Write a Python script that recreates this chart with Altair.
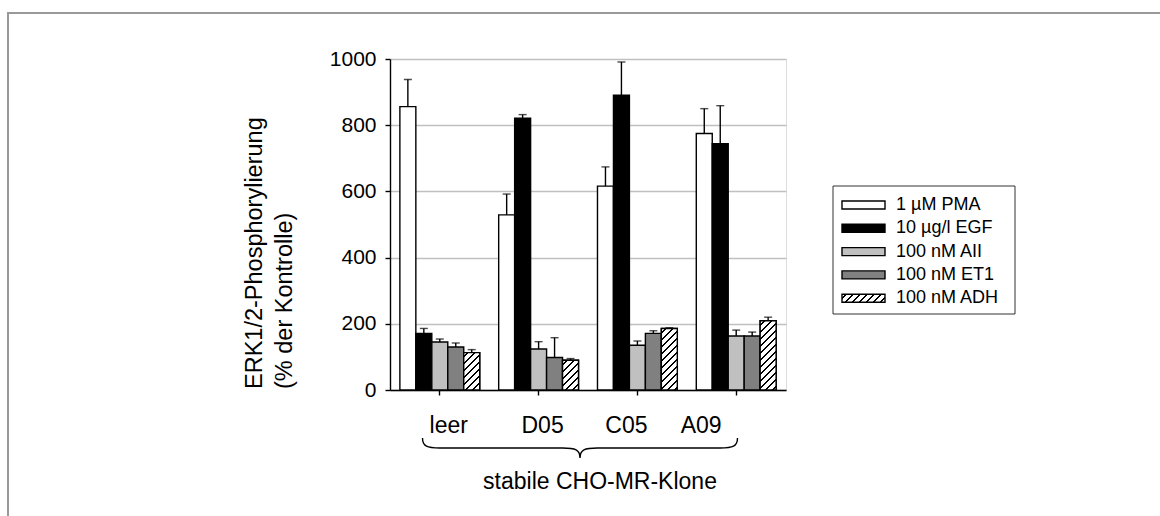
import altair as alt
import pandas as pd

# ---- data -------------------------------------------------------------
clones = ["leer", "D05", "C05", "A09"]
treatments = ["1 µM PMA", "10 µg/l EGF", "100 nM AII", "100 nM ET1", "100 nM ADH"]

pma = [856, 529, 616, 775]
egf = [171, 821, 891, 744]
aii = [145, 124, 135, 163]
et1 = [130, 98, 171, 163]
adh = [113, 90, 186, 209]

pma_err = [82, 63, 58, 75]
egf_err = [15, 11, 100, 115]
aii_err = [9, 22, 13, 18]
et1_err = [12, 60, 8, 12]
adh_err = [9, 5, 2, 11]

y_ticks = [0, 200, 400, 600, 800, 1000]

fills = ["#ffffff", "#000000", "#c0c0c0", "#808080", "#ffffff"]

means = [pma, egf, aii, et1, adh]
errs = [pma_err, egf_err, aii_err, et1_err, adh_err]
df = pd.DataFrame(
    [
        {"clone": c, "treatment": t, "value": m[j], "err": e[j]}
        for t, m, e in zip(treatments, means, errs)
        for j, c in enumerate(clones)
    ]
)
df_clones = pd.DataFrame({"clone": clones})
df_treat = pd.DataFrame({"treatment": treatments})
df_one = pd.DataFrame({"k": [0]})

# ---- layout -----------------------------------------------------------
W, H = 396, 331          # plot rectangle
Y_MAX = 1000
PAD_IN, PAD_OUT = 0.192, 0.1
FONT = "Liberation Sans"
LINE = 1.4

step = W / (len(clones) - PAD_IN + 2 * PAD_OUT)
bar_w = step * (1 - PAD_IN) / len(treatments)
px_per_unit = H / Y_MAX


def hatch(w, h, spacing=7.0, lw=1.3):
    """Diagonal '/' hatching for a w x h box, as a striped bounding-box gradient.

    The gradient vector is chosen so that t = (x + y) / (w + h) in pixels,
    which makes every stripe run at 45 degrees regardless of the box shape.
    """
    k = (w + h) / (w * w + h * h)
    period = spacing / (w + h)
    thick = lw * 2 ** 0.5 / (w + h)
    stops = [alt.GradientStop(offset=0, color="#ffffff")]
    t = period / 2
    while t + thick < 1:
        a, b = round(t, 5), round(t + thick, 5)
        stops += [
            alt.GradientStop(offset=a, color="#ffffff"),
            alt.GradientStop(offset=a, color="#000000"),
            alt.GradientStop(offset=b, color="#000000"),
            alt.GradientStop(offset=b, color="#ffffff"),
        ]
        t += period
    stops.append(alt.GradientStop(offset=1, color="#ffffff"))
    return alt.LinearGradient(
        gradient="linear", stops=stops, x1=0, y1=0, x2=round(w * k, 5), y2=round(h * k, 5)
    )


x_enc = alt.X(
    "clone:N",
    sort=clones,
    scale=alt.Scale(domain=clones, paddingInner=PAD_IN, paddingOuter=PAD_OUT),
    axis=alt.Axis(
        title=None, labels=False, grid=False, ticks=True, tickSize=5,
        tickColor="black", tickWidth=LINE, domainColor="black", domainWidth=LINE,
    ),
)
xo_enc = alt.XOffset(
    "treatment:N", sort=treatments,
    scale=alt.Scale(domain=treatments, paddingInner=0, paddingOuter=0),
)
y_axis = alt.Axis(
    title=None, values=y_ticks, format="d", tickSize=5, tickColor="black", tickWidth=LINE,
    domainColor="black", domainWidth=LINE, labelPadding=9, labelFontSize=21,
    labelColor="black", labelFont=FONT, grid=True, gridColor="#c0c0c0", gridWidth=1.3,
)
y_scale = alt.Scale(domain=[0, Y_MAX], nice=False)
fill_enc = alt.Fill("treatment:N", scale=alt.Scale(domain=treatments, range=fills), legend=None)

base = alt.Chart(df)

bars = base.mark_bar(stroke="black", strokeWidth=LINE).encode(
    x=x_enc, xOffset=xo_enc,
    y=alt.Y("value:Q", scale=y_scale, axis=y_axis),
    fill=fill_enc,
)

# hatched ADH bars, one gradient per bar height
hatched = []
for c, v in zip(clones, adh):
    hatched.append(
        base.transform_filter(
            (alt.datum.clone == c) & (alt.datum.treatment == treatments[4])
        ).mark_bar(
            fill=hatch(bar_w, v * px_per_unit), stroke="black", strokeWidth=LINE
        ).encode(
            x=x_enc, xOffset=xo_enc, y=alt.Y("value:Q", scale=y_scale, axis=y_axis),
        )
    )

err_base = base.transform_calculate(hi="datum.value + datum.err")
err_rule = err_base.mark_rule(color="black", strokeWidth=LINE).encode(
    x=x_enc, xOffset=xo_enc,
    y=alt.Y("value:Q", scale=y_scale, axis=y_axis), y2="hi:Q",
)
err_cap = err_base.mark_tick(color="black", orient="horizontal", size=8, thickness=LINE).encode(
    x=x_enc, xOffset=xo_enc, y=alt.Y("hi:Q", scale=y_scale, axis=y_axis),
)

# clone names under the axis
label_dx = [9, 4, -11, -35]
cat_labels = [
    alt.Chart(df_clones).transform_filter(alt.datum.clone == c).mark_text(
        fontSize=23, dx=dx, baseline="middle", color="black"
    ).encode(x=x_enc, y=alt.value(H + 36), text="clone:N")
    for c, dx in zip(clones, label_dx)
]

brace_path = (
    "M -1 -0.0635 C -1 -0.01 -0.97 0 -0.89 0 L -0.11 0 "
    "C -0.03 0 0 0.01 0 0.0635 C 0 0.01 0.03 0 0.11 0 "
    "L 0.89 0 C 0.97 0 1 -0.01 1 -0.0635"
)
brace = alt.Chart(df_one).mark_point(
    shape=brace_path, size=315 ** 2, filled=False, stroke="black", strokeWidth=LINE, opacity=1
).encode(x=alt.value(190), y=alt.value(H + 58))

group_title = alt.Chart(df_one).mark_text(
    text="stabile CHO-MR-Klone", fontSize=23, align="center", baseline="middle", color="black"
).encode(x=alt.value(210), y=alt.value(H + 92))

y_title = alt.Chart(df_one).mark_text(
    angle=270, align="left", baseline="middle", fontSize=23.5, lineHeight=30, color="black"
).encode(
    x=alt.value(-135), y=alt.value(H - 1),
    text=alt.value(["ERK1/2-Phosphorylierung", "(% der Kontrolle)"]),
)

# legend box
leg_x0, leg_x1, leg_y0, leg_y1 = 443, 625, 127, 255
legend_box = alt.Chart(df_one).mark_rect(fill="white", stroke="#333333", strokeWidth=1).encode(
    x=alt.value(leg_x0), x2=alt.value(leg_x1), y=alt.value(leg_y0), y2=alt.value(leg_y1)
)
SW_X0, SW_X1, SW_H = 452, 495, 8
legend_items = []
for i, t in enumerate(treatments):
    yc = 146 + 23.3 * i
    src = alt.Chart(df_treat).transform_filter(alt.datum.treatment == t)
    pos = dict(
        x=alt.value(SW_X0), x2=alt.value(SW_X1),
        y=alt.value(yc - SW_H / 2), y2=alt.value(yc + SW_H / 2),
    )
    if i == len(treatments) - 1:
        sw = src.mark_rect(
            fill=hatch(SW_X1 - SW_X0, SW_H), stroke="black", strokeWidth=LINE
        ).encode(**pos)
    else:
        sw = src.mark_rect(stroke="black", strokeWidth=LINE).encode(fill=fill_enc, **pos)
    txt = src.mark_text(align="left", baseline="middle", fontSize=18, color="black").encode(
        x=alt.value(506), y=alt.value(yc), text="treatment:N"
    )
    legend_items += [sw, txt]

# outer frame (top and left edges)
frame_top = alt.Chart(df_one).mark_rule(color="#999999", strokeWidth=2).encode(
    x=alt.value(-382), x2=alt.value(780), y=alt.value(-46)
)
frame_left = alt.Chart(df_one).mark_rule(color="#999999", strokeWidth=2).encode(
    x=alt.value(-382), y=alt.value(-47), y2=alt.value(470)
)

chart = alt.layer(
    frame_top, frame_left, bars, *hatched, err_rule, err_cap, *cat_labels, brace,
    group_title, y_title, legend_box, *legend_items,
).properties(
    width=W, height=H,
    autosize=alt.AutoSizeParams(type="none"),
    padding={"left": 390, "top": 59, "right": 1160 - 390 - W, "bottom": 516 - 59 - H},
    background="white",
).configure_view(strokeWidth=0).configure(font=FONT)

chart.save("out.html", embed_options={"renderer": "svg", "actions": False})
